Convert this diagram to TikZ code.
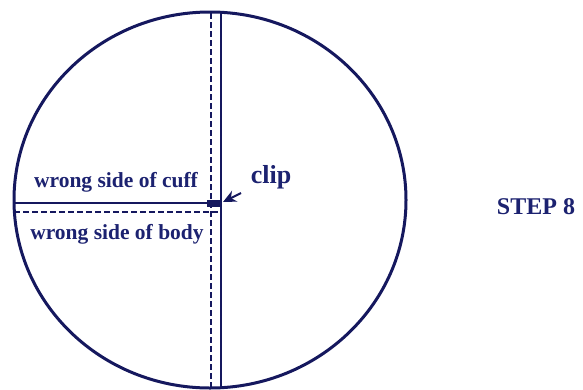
\documentclass[tikz,border=0pt]{standalone}
\usepackage{fontspec}
\setmainfont{Liberation Serif}
\usetikzlibrary{arrows.meta}
\definecolor{ink}{HTML}{15185E}
\definecolor{txt}{HTML}{1C2270}
\tikzset{
  solidln/.style={draw=ink, line width=2.8pt},
  dashln/.style={draw=ink, line width=2.6pt, dash pattern=on 6pt off 3pt},
  label/.style={text=txt, font=\bfseries\fontsize{21.5}{21.5}\selectfont, inner sep=0pt},
}
\begin{document}
\begin{tikzpicture}[x=1pt,y=-1pt]
\useasboundingbox[fill=white] (0,0) rectangle (583,389);
% outline
\draw[draw=ink, line width=3pt] (210,200) ellipse [x radius=196, y radius=188];
% named points
\coordinate (vdTop) at (211,13);
\coordinate (vdBot) at (211,389);
\coordinate (vsTop) at (221,12);
\coordinate (vsBot) at (221,389);
\coordinate (hsL) at (14,203);
\coordinate (hsR) at (221,203);
\coordinate (hdL) at (14,212);
\coordinate (hdR) at (221,212);
% vertical lines
\draw[dashln] (vdTop) -- (vdBot);
\draw[solidln] (vsTop) -- (vsBot);
% horizontal lines
\draw[solidln] (hsL) -- (hsR);
\draw[dashln] (hdL) -- (hdR);
\fill[ink] (207,199.5) rectangle (222,206.5);
% labels
\node[label, anchor=base] (cuff) at (116,187) {wrong side of cuff};
\node[label, anchor=base] (body) at (117,239) {wrong side of body};
\node[label, anchor=base, font=\bfseries\fontsize{26}{26}\selectfont] (clip) at (271,183) {clip};
\node[label, anchor=base, font=\bfseries\fontsize{24}{24}\selectfont] (step) at (536,214) {STEP 8};
% clip arrow
\coordinate (arrS) at (241,193);
\coordinate (arrE) at (223,202);
\draw[draw=ink, line width=2pt, -{Stealth[length=13pt,width=12pt]}] (arrS) -- (arrE);
\end{tikzpicture}
\end{document}
